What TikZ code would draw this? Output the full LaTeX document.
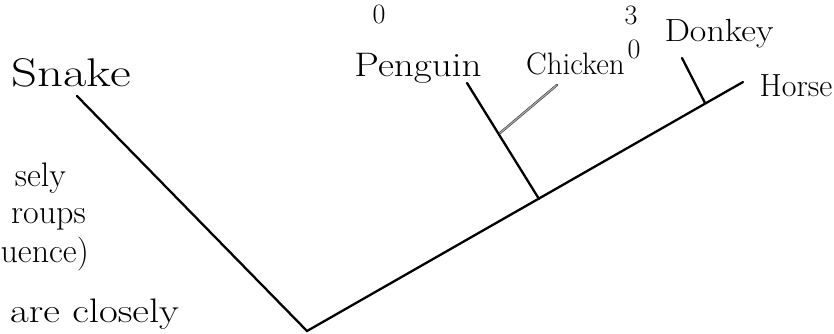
\documentclass[tikz,border=0pt]{standalone}
\begin{document}
\begin{tikzpicture}[x=1pt,y=-1pt,
  branch/.style={line width=2.3pt, line cap=round},
  pencil/.style={draw=black!75, double=black!35, line width=0.6pt, double distance=1.2pt, line cap=round},
  hand/.style={inner sep=0pt},
  typed/.style={font=\fontsize{28}{28}\selectfont, inner sep=0pt},
  note/.style={font=\fontsize{34}{34}\selectfont, inner sep=0pt}]
\useasboundingbox (0,0) rectangle (834,334);
% tree points
\coordinate (root) at (307,331);
\coordinate (snakeend) at (77,96);
\coordinate (horseend) at (743,82);
\coordinate (pj) at (539,199);
\coordinate (ptop) at (467,83);
\coordinate (cj) at (500,133);
\coordinate (ctop) at (557,85);
\coordinate (dj) at (705,103);
\coordinate (dtop) at (682,58);
% branches
\draw[branch] (snakeend) -- (root) -- (horseend);
\draw[branch] (pj) -- (ptop);
\draw[branch] (dj) -- (dtop);
\draw[pencil] (cj) -- (ctop);
% labels
\node[hand, font=\fontsize{40}{40}\selectfont, xscale=1.27, anchor=base] (snake) at (71,87) {Snake};
\node[hand, font=\fontsize{34}{34}\selectfont, xscale=1.15, anchor=base] (penguin) at (418,77) {Penguin};
\node[hand, font=\fontsize{31}{31}\selectfont, anchor=base east] (chicken) at (625,75) {Chicken};
\node[hand, font=\fontsize{32}{32}\selectfont, xscale=1.125, anchor=base] (donkey) at (719,42) {Donkey};
\node[hand, font=\fontsize{32}{32}\selectfont, anchor=base] (horse) at (796,96) {Horse};
\node[typed] (n0a) at (379,14) {0};
\node[typed] (n3) at (631,15) {3};
\node[typed] (n0b) at (634,49) {0};
% cut-off notes
\node[note, anchor=base east] (t1) at (66,186) {sely};
\node[note, anchor=base east] (t2) at (86,223) {roups};
\node[note, anchor=base east] (t3) at (89,262) {uence)};
\node[note, xscale=1.2, anchor=base west] (t4) at (10,322) {are closely};
\end{tikzpicture}
\end{document}
